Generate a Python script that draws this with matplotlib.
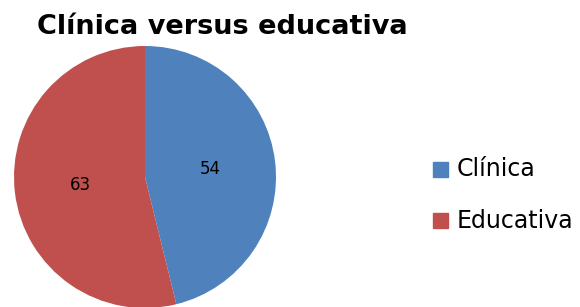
import matplotlib
matplotlib.use("Agg")
import matplotlib.pyplot as plt
import matplotlib.patches as mpatches

categories = ["Clínica", "Educativa"]
values = [54, 63]
colors = ["#4F81BD", "#C0504D"]
title = "Clínica versus educativa"

W, H = 580, 307
fig = plt.figure(figsize=(W / 100, H / 100), dpi=100)
cx, cy, r = 145, 177, 131
ax = fig.add_axes([(cx - r) / W, (H - cy - r) / H, 2 * r / W, 2 * r / H])
total = sum(values)
wedges, texts, autotexts = ax.pie(
    values, colors=colors, startangle=90, counterclock=False, radius=1,
    autopct=lambda p: f"{round(p * total / 100):d}", pctdistance=0.5,
    textprops=dict(fontsize=12, color="black"),
)
ax.set_xlim(-1, 1)
ax.set_ylim(-1, 1)
ax.set_aspect("equal")
ax.axis("off")

fig.text(37 / W, 1 - 27 / H, title, fontsize=19.5, fontweight="bold",
         ha="left", va="center", family="DejaVu Sans")

# legend
ys = [169.5, 220.5]
for c, l, y in zip(colors, categories, ys):
    fig.patches.append(mpatches.Rectangle((433 / W, 1 - (y + 7.5) / H), 15 / W, 15 / H,
                                          transform=fig.transFigure, color=c, figure=fig))
    fig.text(457 / W, 1 - y / H, l, fontsize=17, ha="left", va="center")

fig.savefig("out.png", dpi=100)
